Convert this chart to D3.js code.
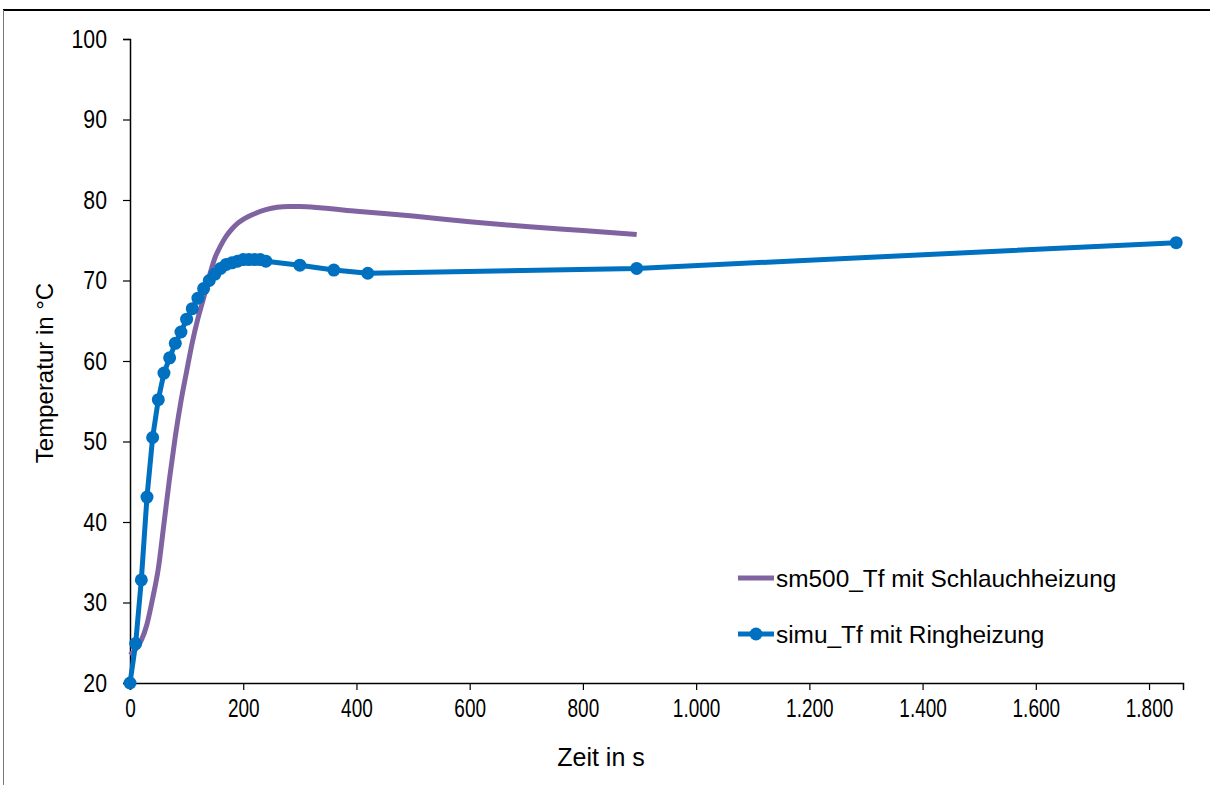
<!DOCTYPE html>
<html>
<head>
<meta charset="utf-8">
<script src="https://cdn.jsdelivr.net/npm/d3@7"></script>
<style>
  html, body { margin: 0; padding: 0; background: #fff; }
  svg { display: block; }
  text { font-family: Arial, "Liberation Sans", sans-serif; fill: #000; }
</style>
</head>
<body>
<svg id="chart" width="1210" height="785"></svg>
<script>
// Measured fluid temperature with hose heating (dense log, no markers)
const schlauchTime = [0, 10, 20, 30, 40, 50, 60, 70, 80, 90, 100, 110, 120, 130, 140, 150, 160, 170, 180, 190, 200, 220, 240, 260, 280, 300, 340, 400, 500, 600, 700, 800, 895];
const schlauchTemp = [23.5, 24.2, 25.3, 27.3, 30.5, 34.2, 39.8, 45.5, 50.6, 55.0, 58.7, 62.3, 65.3, 67.8, 70.5, 72.8, 74.3, 75.5, 76.4, 77.1, 77.6, 78.3, 78.8, 79.1, 79.2, 79.2, 79.0, 78.6, 78.0, 77.3, 76.7, 76.2, 75.7];

// Simulated fluid temperature with ring heating (one marker per sample)
const ringTime = [0, 10, 20, 30, 40, 50, 60, 70, 80, 90, 100, 110, 120, 130, 140, 150, 160, 170, 180, 190, 200, 210, 220, 230, 240, 300, 360, 420, 895, 1848];
const ringTemp = [20.0, 24.9, 32.8, 43.1, 50.5, 55.2, 58.5, 60.4, 62.2, 63.6, 65.2, 66.5, 67.8, 69.0, 70.0, 70.8, 71.5, 72.0, 72.2, 72.4, 72.6, 72.6, 72.6, 72.6, 72.4, 71.9, 71.3, 70.9, 71.5, 74.7];

const seriesNames = ["sm500_Tf mit Schlauchheizung", "simu_Tf mit Ringheizung"];
const seriesColors = ["#8064A2", "#0070C0"];

const xTicks = [0, 200, 400, 600, 800, 1000, 1200, 1400, 1600, 1800];
const yTicks = [20, 30, 40, 50, 60, 70, 80, 90, 100];
const xTitle = "Zeit in s";
const yTitle = "Temperatur  in °C";

const svg = d3.select("#chart");

// chart frame
svg.append("line").attr("x1", 3).attr("x2", 1210).attr("y1", 10).attr("y2", 10)
  .attr("stroke", "#000").attr("stroke-width", 2);
svg.append("line").attr("x1", 3.5).attr("x2", 3.5).attr("y1", 10).attr("y2", 785)
  .attr("stroke", "#777").attr("stroke-width", 1);

const x = d3.scaleLinear().domain([0, 1860]).range([130, 1183]);
const y = d3.scaleLinear().domain([20, 100]).range([683, 39]);

const fmt = d3.formatLocale({ decimal: ",", thousands: ".", grouping: [3], currency: ["", "€"] }).format(",d");

// narrow the tick numbers a little, keeping their height
function condense(sel, k) {
  sel.each(function () {
    const w = this.getComputedTextLength();
    d3.select(this).attr("textLength", w * k).attr("lengthAdjust", "spacingAndGlyphs");
  });
}

// y axis
const yAxis = svg.append("g").attr("transform", `translate(${x(0)},0)`)
  .call(d3.axisLeft(y).tickValues(yTicks).tickSize(7).tickPadding(16));
yAxis.select(".domain").attr("stroke", "#000").attr("stroke-width", 1.5);
yAxis.selectAll(".tick line").attr("stroke", "#000").attr("stroke-width", 1.2);
yAxis.selectAll(".tick text").attr("font-size", 25).attr("font-family", "Arial, 'Liberation Sans', sans-serif").attr("fill", "#000")
  .call(condense, 0.85);

// x axis
const xAxis = svg.append("g").attr("transform", `translate(0,${y(20)})`)
  .call(d3.axisBottom(x).tickValues(xTicks).tickFormat(fmt).tickSize(7).tickPadding(9));
xAxis.select(".domain").attr("stroke", "#000").attr("stroke-width", 1.5);
xAxis.selectAll(".tick line").attr("stroke", "#000").attr("stroke-width", 1.2);
xAxis.selectAll(".tick text").attr("font-size", 25).attr("font-family", "Arial, 'Liberation Sans', sans-serif").attr("fill", "#000")
  .call(condense, 0.76);

// axis titles
svg.append("text").attr("x", 601).attr("y", 766).attr("text-anchor", "middle")
  .attr("font-size", 25).text(xTitle);
svg.append("text").attr("transform", "translate(53,373) rotate(-90)").attr("text-anchor", "middle")
  .attr("font-size", 24).text(yTitle);

// series
const schlauch = schlauchTime.map((t, i) => [t, schlauchTemp[i]]);
const ring = ringTime.map((t, i) => [t, ringTemp[i]]);

svg.append("path").datum(schlauch)
  .attr("fill", "none").attr("stroke", seriesColors[0]).attr("stroke-width", 5)
  .attr("stroke-linejoin", "round")
  .attr("d", d3.line().x(d => x(d[0])).y(d => y(d[1])).curve(d3.curveMonotoneX));

svg.append("path").datum(ring)
  .attr("fill", "none").attr("stroke", seriesColors[1]).attr("stroke-width", 5)
  .attr("stroke-linejoin", "round")
  .attr("d", d3.line().x(d => x(d[0])).y(d => y(d[1])));

svg.append("g").selectAll("circle").data(ring).join("circle")
  .attr("cx", d => x(d[0])).attr("cy", d => y(d[1])).attr("r", 6.5)
  .attr("fill", seriesColors[1]);

// legend
const legend = svg.append("g");
const legendRows = [578, 634];
seriesNames.forEach((name, i) => {
  const g = legend.append("g").attr("transform", `translate(738,${legendRows[i]})`);
  g.append("line").attr("x1", 0).attr("x2", 36).attr("y1", 0).attr("y2", 0)
    .attr("stroke", seriesColors[i]).attr("stroke-width", 5);
  if (i === 1) g.append("circle").attr("cx", 18).attr("cy", 0).attr("r", 6.5).attr("fill", seriesColors[i]);
  g.append("text").attr("x", 38).attr("y", 0).attr("dy", "0.35em").attr("font-size", 24.4).text(name);
});
</script>
</body>
</html>
